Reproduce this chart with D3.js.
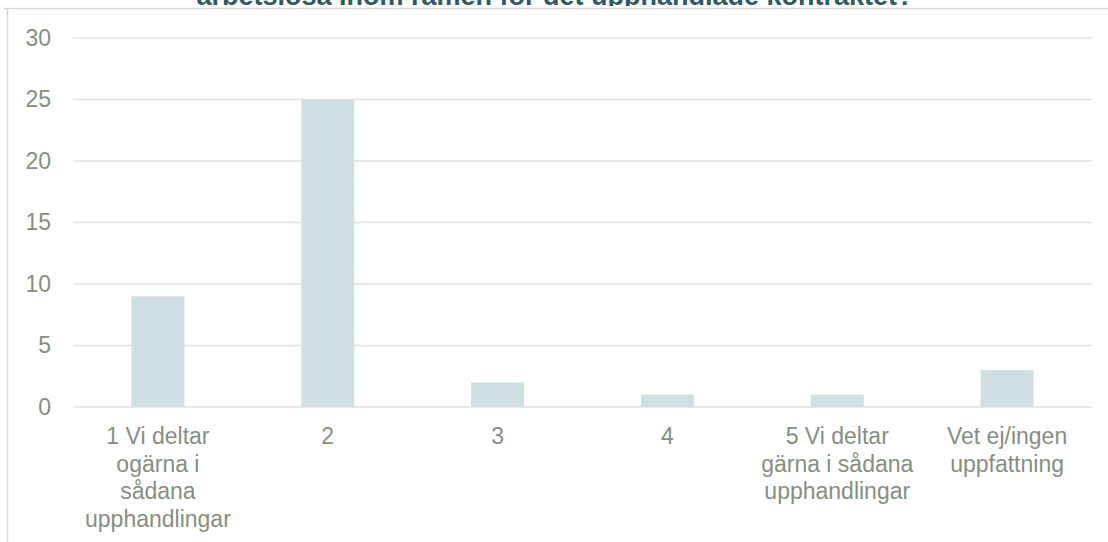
<!DOCTYPE html>
<html>
<head>
<meta charset="utf-8">
<script src="https://cdn.jsdelivr.net/npm/d3@7"></script>
<style>
  html, body { margin: 0; padding: 0; background: #ffffff; }
  svg { display: block; }
</style>
</head>
<body>
<svg id="chart" width="1108" height="542"></svg>
<script>
const titleText = "arbetslösa inom ramen för det upphandlade kontraktet?";
const categories = [
  ["1 Vi deltar", "ogärna i", "sådana", "upphandlingar"],
  ["2"],
  ["3"],
  ["4"],
  ["5 Vi deltar", "gärna i sådana", "upphandlingar"],
  ["Vet ej/ingen", "uppfattning"]
];
const values = [9, 25, 2, 1, 1, 3];
const yTicks = [0, 5, 10, 15, 20, 25, 30];

const svg = d3.select("#chart");
const W = 1108, H = 542;
const margin = { left: 73, right: 16, top: 38, bottom: 135 };
const labelColor = "#858f80";
const font = "'Liberation Sans', Arial, sans-serif";

// frame
svg.append("line").attr("x1", 7.5).attr("x2", 7.5).attr("y1", 8).attr("y2", H)
  .attr("stroke", "#dadada").attr("stroke-width", 1.5);
svg.append("line").attr("x1", 4).attr("x2", W).attr("y1", 8.5).attr("y2", 8.5)
  .attr("stroke", "#dadada").attr("stroke-width", 1.5);

// title (cut off at the top)
svg.append("clipPath").attr("id", "tclip").append("rect")
  .attr("x", 0).attr("y", 0).attr("width", W).attr("height", 6);
svg.append("text")
  .attr("clip-path", "url(#tclip)")
  .attr("x", 555).attr("y", 5)
  .attr("text-anchor", "middle")
  .attr("font-family", font).attr("font-weight", "bold")
  .attr("font-size", 27).attr("fill", "#2e5b62")
  .text(titleText);

const x = d3.scaleBand()
  .domain(d3.range(categories.length))
  .range([margin.left, W - margin.right])
  .padding(0);
const y = d3.scaleLinear().domain([0, 30]).range([H - margin.bottom, margin.top]);

// gridlines
svg.append("g").selectAll("line").data(yTicks).join("line")
  .attr("x1", margin.left).attr("x2", W - margin.right)
  .attr("y1", d => y(d)).attr("y2", d => y(d))
  .attr("stroke", "#e2e2e2").attr("stroke-width", 1.5);

// y labels
svg.append("g").selectAll("text").data(yTicks).join("text")
  .attr("x", 51).attr("y", d => y(d)).attr("dy", "0.33em")
  .attr("text-anchor", "end")
  .attr("font-family", font).attr("font-size", 23).attr("fill", labelColor)
  .text(d => d);

// bars
const bw = x.bandwidth() * 0.312;
svg.append("g").selectAll("rect").data(values).join("rect")
  .attr("x", (d, i) => x(i) + x.bandwidth() / 2 - bw / 2)
  .attr("width", bw)
  .attr("y", d => y(d))
  .attr("height", d => y(0) - y(d))
  .attr("fill", "#cfdfe2");

// x labels
const xl = svg.append("g").selectAll("text").data(categories).join("text")
  .attr("text-anchor", "middle")
  .attr("font-family", font).attr("font-size", 23).attr("fill", labelColor);
xl.each(function(lines, i) {
  const t = d3.select(this);
  lines.forEach((ln, j) => {
    t.append("tspan")
      .attr("x", x(i) + x.bandwidth() / 2)
      .attr("y", 444 + j * 27.5)
      .text(ln);
  });
});
</script>
</body>
</html>
